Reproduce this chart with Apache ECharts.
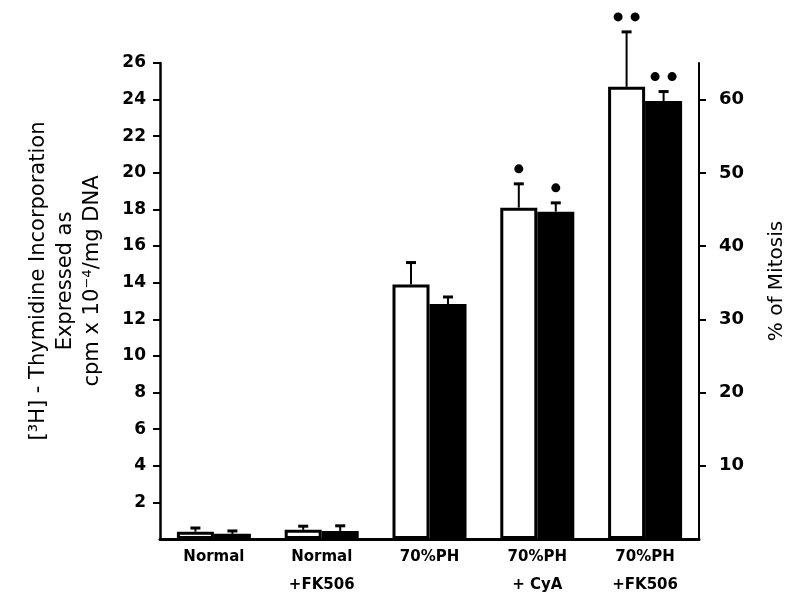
<!DOCTYPE html>
<html lang="en">
<head>
    <meta charset="UTF-8">
    <title>Thymidine incorporation and mitosis</title>
    <script src="https://cdn.jsdelivr.net/npm/echarts@6/dist/echarts.min.js"></script>
    <style>
        html, body { margin: 0; padding: 0; background: #fff; }
        #main { width: 800px; height: 602px; }
    </style>
</head>
<body>
    <div id="main"></div>
    <script>
        // data
        var categories = ['Normal', 'Normal\n+FK506', '70%PH', '70%PH\n+ CyA', '70%PH\n+FK506'];
        var thymidine = [0.4, 0.5, 13.9, 18.1, 24.7];      // open bars, left axis
        var thymidineErr = [0.2, 0.2, 1.2, 1.3, 3.0];
        var thymidineSig = [0, 0, 0, 1, 2];                // number of dots
        var mitosis = [0.7, 1.1, 32.1, 44.7, 59.8];        // filled bars, right axis (%)
        var mitosisErr = [0.4, 0.7, 0.95, 1.2, 1.3];
        var mitosisSig = [0, 0, 0, 1, 2];
        var leftTicks = [2, 4, 6, 8, 10, 12, 14, 16, 18, 20, 22, 24, 26];
        var rightTicks = [10, 20, 30, 40, 50, 60];

        var FONT = 'DejaVu Sans';
        var BAR_W = 37;

        function errData(vals, errs, sig) {
            return vals.map(function (v, i) { return [i, v, errs[i], sig[i]]; });
        }

        // side: -1 = left bar of the pair, 1 = right bar
        function errorBar(side) {
            return function (params, api) {
                var idx = api.value(0);
                var base = api.coord([idx, api.value(1)]);
                var top = api.coord([idx, api.value(1) + api.value(2)]);
                var x = base[0] + side * BAR_W / 2;
                var kids = [
                    { type: 'line', shape: { x1: x, y1: base[1], x2: x, y2: top[1] }, style: { stroke: '#000', lineWidth: 2 } },
                    { type: 'line', shape: { x1: x - 5, y1: top[1], x2: x + 5, y2: top[1] }, style: { stroke: '#000', lineWidth: 3 } }
                ];
                var n = api.value(3);
                for (var k = 0; k < n; k++) {
                    var dx = (k - (n - 1) / 2) * 17;
                    kids.push({ type: 'circle', shape: { cx: x + dx, cy: top[1] - 15, r: 4.5 }, style: { fill: '#000' } });
                }
                return { type: 'group', children: kids };
            };
        }

        var chart = echarts.init(document.getElementById('main'));
        var option = {
            backgroundColor: '#fff',
            animation: false,
            grid: { left: 160, right: 101, top: 63, bottom: 63, outerBoundsMode: 'none' },
            xAxis: {
                type: 'category',
                data: categories,
                axisLine: { lineStyle: { color: '#000', width: 3 } },
                axisTick: { show: false },
                axisLabel: {
                    color: '#000', fontFamily: FONT, fontWeight: 'bold', fontSize: 15,
                    lineHeight: 28, margin: 4, interval: 0
                }
            },
            yAxis: [
                {
                    type: 'value', min: 0, max: 26,
                    name: '[\u00B3H] - Thymidine Incorporation\nExpressed as\ncpm x 10\u207B\u2074/mg DNA',
                    nameLocation: 'middle', nameRotate: 90, nameGap: 54, nameMoveOverlap: false,
                    nameTextStyle: { color: '#000', fontFamily: FONT, fontSize: 21, lineHeight: 27, padding: [0, 0, 0, 40] },
                    axisLine: { show: true, lineStyle: { color: '#000', width: 2.5 } },
                    axisTick: { show: true, length: 7, customValues: leftTicks, lineStyle: { color: '#000', width: 2 } },
                    axisLabel: { customValues: leftTicks, margin: 14, color: '#000', fontFamily: FONT, fontWeight: 'bold', fontSize: 17 },
                    splitLine: { show: false }
                },
                {
                    type: 'value', min: 0, max: 65, position: 'right',
                    name: '% of Mitosis',
                    nameLocation: 'middle', nameRotate: 90, nameGap: 68, nameMoveOverlap: false,
                    nameTextStyle: { color: '#000', fontFamily: FONT, fontSize: 20, padding: [0, 0, 0, 40] },
                    axisLine: { show: true, lineStyle: { color: '#000', width: 2 } },
                    axisTick: { show: true, length: 7, customValues: rightTicks, lineStyle: { color: '#000', width: 2 } },
                    axisLabel: { customValues: rightTicks, margin: 20, color: '#000', fontFamily: FONT, fontWeight: 'bold', fontSize: 18 },
                    splitLine: { show: false }
                }
            ],
            series: [
                {
                    name: 'Thymidine', type: 'bar', yAxisIndex: 0, data: thymidine,
                    barWidth: BAR_W, barGap: '0%',
                    itemStyle: { color: '#fff', borderColor: '#000', borderWidth: 3 }
                },
                {
                    name: 'Mitosis', type: 'bar', yAxisIndex: 1, data: mitosis,
                    barWidth: BAR_W, barGap: '0%',
                    itemStyle: { color: '#000' }
                },
                {
                    type: 'custom', yAxisIndex: 0, clip: false, z: 5,
                    renderItem: errorBar(-1),
                    encode: { x: 0, y: 1 },
                    data: errData(thymidine, thymidineErr, thymidineSig)
                },
                {
                    type: 'custom', yAxisIndex: 1, clip: false, z: 5,
                    renderItem: errorBar(1),
                    encode: { x: 0, y: 1 },
                    data: errData(mitosis, mitosisErr, mitosisSig)
                }
            ]
        };
        chart.setOption(option);
    </script>
</body>
</html>
